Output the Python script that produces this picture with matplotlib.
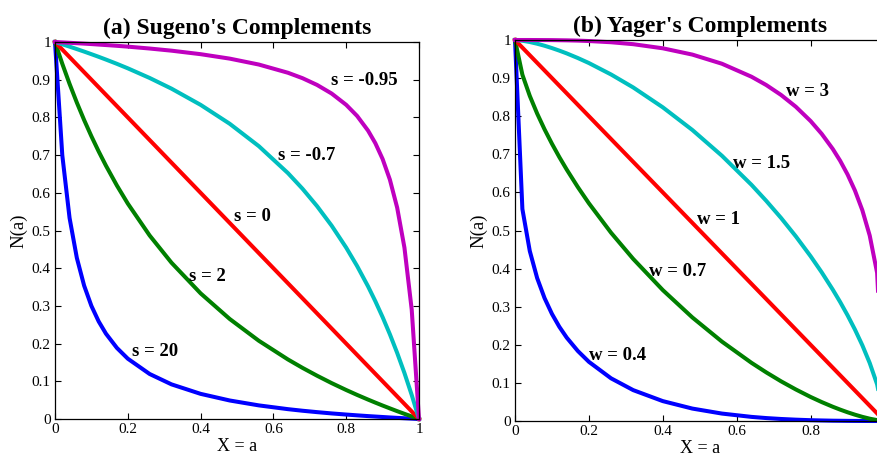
import matplotlib
matplotlib.use("Agg")
import matplotlib.pyplot as plt

plt.rcParams['font.family'] = ['Liberation Serif', 'DejaVu Serif']

# Membership grade a (shared sampling grid)
a_vals = [0, 0.02, 0.04, 0.06, 0.08, 0.1, 0.12, 0.14, 0.17, 0.2, 0.26, 0.32,
          0.4, 0.48, 0.56, 0.64, 0.68, 0.72, 0.76, 0.8, 0.83, 0.86, 0.88, 0.9,
          0.92, 0.94, 0.96, 0.98, 1.0]

# Sugeno complements N(a) for each lambda value s
sugeno_s20 = [1.0, 0.700, 0.5333, 0.4273, 0.3538, 0.300, 0.2588, 0.2263, 0.1886,
              0.160, 0.1194, 0.0919, 0.0667, 0.0491, 0.0361, 0.0261, 0.0219,
              0.0182, 0.0148, 0.0118, 0.0097, 0.0077, 0.0065, 0.0053, 0.0041,
              0.0030, 0.0020, 0.0010, 0.0]
sugeno_s2 = [1.0, 0.9423, 0.8889, 0.8393, 0.7931, 0.750, 0.7097, 0.6719, 0.6194,
             0.5714, 0.4868, 0.4146, 0.3333, 0.2653, 0.2075, 0.1579, 0.1356,
             0.1148, 0.0952, 0.0769, 0.0639, 0.0515, 0.0435, 0.0357, 0.0282,
             0.0208, 0.0137, 0.0068, 0.0]
sugeno_s0 = [1.0, 0.98, 0.96, 0.94, 0.92, 0.90, 0.88, 0.86, 0.83, 0.80, 0.74,
             0.68, 0.60, 0.52, 0.44, 0.36, 0.32, 0.28, 0.24, 0.20, 0.17, 0.14,
             0.12, 0.10, 0.08, 0.06, 0.04, 0.02, 0.0]
sugeno_sm07 = [1.0, 0.9939, 0.9877, 0.9812, 0.9746, 0.9677, 0.9607, 0.9534,
               0.9421, 0.9302, 0.9046, 0.8763, 0.8333, 0.7831, 0.7237, 0.6522,
               0.6107, 0.5645, 0.5128, 0.4545, 0.4057, 0.3518, 0.3125, 0.2703,
               0.2247, 0.1754, 0.1220, 0.0637, 0.0]
sugeno_sm095 = [1.0, 0.9990, 0.9979, 0.9968, 0.9957, 0.9945, 0.9932, 0.9919,
                0.9899, 0.9877, 0.9827, 0.9770, 0.9677, 0.9559, 0.9402, 0.9184,
                0.9040, 0.8861, 0.8633, 0.8333, 0.8038, 0.7650, 0.7317, 0.6897,
                0.6349, 0.5607, 0.4545, 0.2899, 0.0]

# Yager complements N(a) for each w
yager_w04 = [1.0, 0.5563, 0.4462, 0.3750, 0.3225, 0.2811, 0.2472, 0.2188, 0.1838,
             0.1553, 0.1120, 0.0810, 0.0522, 0.0326, 0.0195, 0.0108, 0.0077,
             0.0053, 0.0035, 0.0021, 0.0014, 0.0008, 0.0006, 0.00035, 0.0002,
             0.0001, 0.0, 0.0, 0.0]
yager_w07 = [1.0, 0.9089, 0.8533, 0.8068, 0.7654, 0.7277, 0.6926, 0.6599, 0.6140,
             0.5714, 0.4941, 0.4253, 0.3436, 0.2718, 0.2084, 0.1527, 0.1276,
             0.1042, 0.0828, 0.0631, 0.0497, 0.0374, 0.0299, 0.0229, 0.0166,
             0.0109, 0.0061, 0.0023, 0.0]
yager_w1 = [1.0, 0.98, 0.96, 0.94, 0.92, 0.90, 0.88, 0.86, 0.83, 0.80, 0.74,
            0.68, 0.60, 0.52, 0.44, 0.36, 0.32, 0.28, 0.24, 0.20, 0.17, 0.14,
            0.12, 0.10, 0.08, 0.06, 0.04, 0.02, 0.0]
yager_w15 = [1.0, 0.9981, 0.9947, 0.9902, 0.9849, 0.9788, 0.9721, 0.9648, 0.9527,
             0.9395, 0.9095, 0.8754, 0.8233, 0.7638, 0.6962, 0.6199, 0.5778,
             0.5330, 0.4847, 0.4325, 0.3903, 0.3448, 0.3123, 0.2775, 0.2400,
             0.1988, 0.1522, 0.0962, 0.0]
yager_w3 = [1.0, 1.0, 1.0, 0.9999, 0.9998, 0.9997, 0.9994, 0.9991, 0.9984,
            0.9973, 0.9941, 0.9890, 0.9782, 0.9617, 0.9377, 0.9036, 0.8818,
            0.8558, 0.8248, 0.7873, 0.7537, 0.7140, 0.6830, 0.6471, 0.6049,
            0.5533, 0.4867, 0.3889, 0.0]

sugeno_curves = [sugeno_s20, sugeno_s2, sugeno_s0, sugeno_sm07, sugeno_sm095]
sugeno_labels = ["s = 20", "s = 2", "s = 0", "s = -0.7", "s = -0.95"]
sugeno_label_pos = [(0.212, 0.178), (0.369, 0.378), (0.492, 0.538),
                    (0.612, 0.699), (0.758, 0.898)]

yager_curves = [yager_w04, yager_w07, yager_w1, yager_w15, yager_w3]
yager_labels = ["w = 0.4", "w = 0.7", "w = 1", "w = 1.5", "w = 3"]
yager_label_pos = [(0.200, 0.173), (0.364, 0.392), (0.492, 0.528),
                   (0.591, 0.676), (0.733, 0.864)]

colors = [(0, 0, 1), (0, 0.5, 0), (1, 0, 0), (0, 0.75, 0.75), (0.75, 0, 0.75)]

xticks = [0, 0.2, 0.4, 0.6, 0.8, 1.0]
xticklabels = ["0", "0.2", "0.4", "0.6", "0.8", "1"]
yticks = [0, 0.1, 0.2, 0.3, 0.4, 0.5, 0.6, 0.7, 0.8, 0.9, 1.0]
yticklabels = ["0", "0.1", "0.2", "0.3", "0.4", "0.5", "0.6", "0.7", "0.8", "0.9", "1"]

fig = plt.figure(figsize=(8.77, 4.63), dpi=100)
ax1 = fig.add_axes([55 / 877, 44 / 463, 364 / 877, 377 / 463])
ax2 = fig.add_axes([515 / 877, 42 / 463, 369.5 / 877, 381 / 463])


def draw_panel(ax, curves, labels, positions, title, xlabels):
    for y, c in zip(curves, colors):
        ax.plot(a_vals, y, color=c, linewidth=2.9, solid_joinstyle='round',
                clip_on=False)
    for lab, (lx, ly) in zip(labels, positions):
        ax.text(lx, ly, lab, fontsize=13.5, fontweight='bold',
                ha='left', va='center')
    ax.set_xlim(0, 1)
    ax.set_ylim(0, 1)
    ax.set_xticks(xticks)
    ax.set_xticklabels(xlabels)
    ax.set_yticks(yticks)
    ax.set_yticklabels(yticklabels)
    ax.tick_params(direction='in', length=4, width=0.8, labelsize=11,
                   top=True, right=True, pad=3)
    for sp in ax.spines.values():
        sp.set_linewidth(0.9)
    ax.set_xlabel("X = a", fontsize=13, labelpad=1)
    ax.set_ylabel("N(a)", fontsize=13.5, labelpad=3)
    ax.set_title(title, fontsize=17, fontweight='bold', pad=6)


draw_panel(ax1, sugeno_curves, sugeno_labels, sugeno_label_pos,
           "(a) Sugeno's Complements", xticklabels)
# the right panel runs to the figure edge, so its last tick label falls outside
draw_panel(ax2, yager_curves, yager_labels, yager_label_pos,
           "(b) Yager's Complements", xticklabels[:-1] + [""])

fig.savefig("out.png", dpi=100)
